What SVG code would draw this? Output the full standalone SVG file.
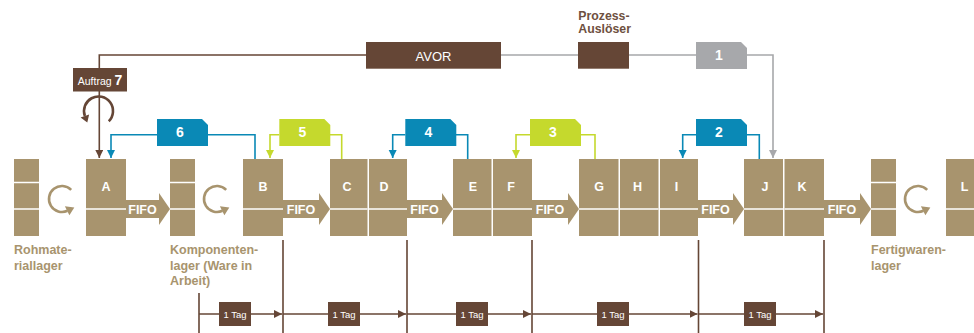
<svg xmlns="http://www.w3.org/2000/svg" xmlns:xlink="http://www.w3.org/1999/xlink" width="974" height="333" viewBox="0 0 974 333">
  <style>
    text { font-family: "Liberation Sans", Arial, sans-serif; }
    .node { fill: #a8946e; }
    .sep { stroke: #ffffff; stroke-width: 1.6; fill: none; }
    .nlabel { fill: #ffffff; font-size: 12.5px; font-weight: bold; text-anchor: middle; }
    .fifo { fill: #a8946e; }
    .fifotxt { fill: #ffffff; font-size: 12.5px; font-weight: bold; text-anchor: middle; }
    .store-label { fill: #a8946e; font-size: 12.5px; font-weight: bold; }
    .cycle { fill: none; stroke: #a8946e; stroke-width: 2.6; }
    .brown { stroke: #654636; stroke-width: 1.6; fill: none; }
    .grey { stroke: #a7a8ab; stroke-width: 1.6; fill: none; }
    .blue { stroke: #0a89b6; stroke-width: 1.6; fill: none; }
    .lime { stroke: #c5d92d; stroke-width: 1.6; fill: none; }
    .tagtxt { fill: #ffffff; font-size: 14px; font-weight: bold; text-anchor: middle; }
    .day { fill: #654636; }
    .daytxt { fill: #ffffff; font-size: 9.5px; text-anchor: middle; }
    .tl { stroke: #654636; stroke-width: 1.6; fill: none; }
  </style>
  <defs>
    <marker id="ah-brown" markerUnits="userSpaceOnUse" markerWidth="9" markerHeight="9" refX="8" refY="4" orient="auto">
      <path d="M0,0 L8,4 L0,8 Z" fill="#654636"/>
    </marker>
    <marker id="ah-grey" markerUnits="userSpaceOnUse" markerWidth="9" markerHeight="9" refX="8" refY="4" orient="auto">
      <path d="M0,0 L8,4 L0,8 Z" fill="#a7a8ab"/>
    </marker>
    <marker id="ah-blue" markerUnits="userSpaceOnUse" markerWidth="9" markerHeight="9" refX="8" refY="4" orient="auto">
      <path d="M0,0 L8,4 L0,8 Z" fill="#0a89b6"/>
    </marker>
    <marker id="ah-lime" markerUnits="userSpaceOnUse" markerWidth="9" markerHeight="9" refX="8" refY="4" orient="auto">
      <path d="M0,0 L8,4 L0,8 Z" fill="#c5d92d"/>
    </marker>
    <!-- stock symbol: narrow block split in three -->
    <g id="store">
      <rect x="0" y="0" width="25" height="77" class="node"/>
      <path d="M0,23.5 H25 M0,50 H25" class="sep"/>
    </g>
    <!-- circulating-stock arrow, centred at 0,0 -->
    <g id="cycle">
      <path d="M9.19,-9.19 A13,13 0 1 0 5.49,11.78" class="cycle"/>
      <polygon points="12.3,8.6 7.4,16.2 2.9,7.3" fill="#a8946e"/>
    </g>
    <!-- process tag with a cut corner -->
    <path id="tag" d="M0,0 H45 L51,6 V27 H0 Z"/>
  </defs>

  <!-- connectors -->
  <g id="connectors">
    <!-- order flow -->
    <path d="M99.3,68 V55 H366" class="brown"/>
    <path d="M99.3,91 V158" class="brown" marker-end="url(#ah-brown)"/>
    <path d="M501,55 H578 M629,55 H696" class="grey"/>
    <path d="M746.7,55 H773 V158" class="grey" marker-end="url(#ah-grey)"/>
    <!-- pull loops -->
    <path d="M255,159 V134.7 H207.7" class="blue"/>
    <path d="M157,134.7 H111 V158" class="blue" marker-end="url(#ah-blue)"/>
    <path d="M341.7,159 V134.7 H330" class="lime"/>
    <path d="M279.3,134.7 H270 V158" class="lime" marker-end="url(#ah-lime)"/>
    <path d="M467.7,159 V134.7 H456" class="blue"/>
    <path d="M405.3,134.7 H392.7 V158" class="blue" marker-end="url(#ah-blue)"/>
    <path d="M595,159 V134.7 H580.7" class="lime"/>
    <path d="M530,134.7 H516 V158" class="lime" marker-end="url(#ah-lime)"/>
    <path d="M759.3,159 V134.7 H746.7" class="blue"/>
    <path d="M696,134.7 H682.7 V158" class="blue" marker-end="url(#ah-blue)"/>
    <!-- order loop around the first step -->
    <path d="M108.75,121.25 A14.5,14.5 0 1 0 84.87,115.96" fill="none" stroke="#654636" stroke-width="2.6"/>
    <polygon points="87.3,122.6 80.6,117.5 89.1,114.4" fill="#654636"/>
    <!-- FIFO lanes -->
    <path class="fifo" d="M126,200 H159 V193 L170,209 L159,225 V218 H126 Z"/>
    <path class="fifo" d="M283,200 H319 V193 L330,209 L319,225 V218 H283 Z"/>
    <path class="fifo" d="M407,200 H442 V193 L453,209 L442,225 V218 H407 Z"/>
    <path class="fifo" d="M532,200 H568 V193 L579,209 L568,225 V218 H532 Z"/>
    <path class="fifo" d="M698,200 H733 V193 L744,209 L733,225 V218 H698 Z"/>
    <path class="fifo" d="M824,200 H860 V193 L871,209 L860,225 V218 H824 Z"/>
    <text class="fifotxt" x="142.5" y="213.5">FIFO</text>
    <text class="fifotxt" x="301" y="213.5">FIFO</text>
    <text class="fifotxt" x="424.5" y="213.5">FIFO</text>
    <text class="fifotxt" x="550" y="213.5">FIFO</text>
    <text class="fifotxt" x="715.5" y="213.5">FIFO</text>
    <text class="fifotxt" x="842" y="213.5">FIFO</text>
  </g>

  <!-- planning boxes -->
  <g id="auftrag">
    <rect x="73" y="68" width="54" height="23.5" fill="#654636"/>
    <text x="100" y="84.5" fill="#ffffff" font-size="10.5" text-anchor="middle">Auftrag <tspan font-weight="bold" font-size="14">7</tspan></text>
  </g>
  <g id="avor">
    <rect x="366" y="42" width="135" height="26.7" fill="#654636"/>
    <text x="433.5" y="60.5" fill="#ffffff" font-size="13" text-anchor="middle">AVOR</text>
  </g>
  <g id="prozess-ausloeser">
    <text x="578.3" y="19.5" fill="#6e5040" font-size="12.3" font-weight="bold">Prozess-</text>
    <text x="578.3" y="33" fill="#6e5040" font-size="12.3" font-weight="bold">Auslöser</text>
    <rect x="578" y="42" width="51" height="26.7" fill="#654636"/>
  </g>

  <!-- kanban tags -->
  <g id="tag1"><use xlink:href="#tag" x="696" y="42" fill="#a7a8ab"/><text class="tagtxt" x="719" y="60">1</text></g>
  <g id="tag2"><use xlink:href="#tag" x="696" y="119" fill="#0a89b6"/><text class="tagtxt" x="719" y="137.3">2</text></g>
  <g id="tag3"><use xlink:href="#tag" x="530" y="119" fill="#c5d92d"/><text class="tagtxt" x="553" y="137.3">3</text></g>
  <g id="tag4"><use xlink:href="#tag" x="405.3" y="119" fill="#0a89b6"/><text class="tagtxt" x="428.3" y="137.3">4</text></g>
  <g id="tag5"><use xlink:href="#tag" x="279.3" y="119" fill="#c5d92d"/><text class="tagtxt" x="302.3" y="137.3">5</text></g>
  <g id="tag6"><use xlink:href="#tag" x="157" y="119" fill="#0a89b6"/><text class="tagtxt" x="180" y="137.3">6</text></g>

  <!-- stores -->
  <g id="rohmateriallager">
    <use xlink:href="#store" x="14" y="159"/>
    <use xlink:href="#cycle" x="62" y="199"/>
    <text class="store-label" x="14" y="254">Rohmate-</text>
    <text class="store-label" x="14" y="269.5">riallager</text>
  </g>
  <g id="komponentenlager">
    <use xlink:href="#store" x="170" y="159"/>
    <use xlink:href="#cycle" x="217" y="199"/>
    <text class="store-label" x="170" y="254">Komponenten-</text>
    <text class="store-label" x="170" y="269.5">lager (Ware in</text>
    <text class="store-label" x="170" y="285">Arbeit)</text>
  </g>
  <g id="fertigwarenlager">
    <use xlink:href="#store" x="871" y="159"/>
    <use xlink:href="#cycle" x="918" y="199"/>
    <text class="store-label" x="871" y="254">Fertigwaren-</text>
    <text class="store-label" x="871" y="269.5">lager</text>
  </g>

  <!-- process steps -->
  <g id="node-A"><rect class="node" x="86" y="159" width="40" height="77"/><path class="sep" d="M86,209 H126"/><text class="nlabel" x="106" y="191">A</text></g>
  <g id="node-B"><rect class="node" x="243" y="159" width="40" height="77"/><path class="sep" d="M243,209 H283"/><text class="nlabel" x="263" y="191">B</text></g>
  <g id="node-C"><rect class="node" x="330" y="159" width="37.5" height="77"/><path class="sep" d="M330,209 H367.5"/><text class="nlabel" x="347" y="191">C</text></g>
  <g id="node-D"><rect class="node" x="369" y="159" width="38" height="77"/><path class="sep" d="M369,209 H407"/><text class="nlabel" x="384" y="191">D</text></g>
  <g id="node-E"><rect class="node" x="453" y="159" width="38.5" height="77"/><path class="sep" d="M453,209 H491.5"/><text class="nlabel" x="473" y="191">E</text></g>
  <g id="node-F"><rect class="node" x="493" y="159" width="39" height="77"/><path class="sep" d="M493,209 H532"/><text class="nlabel" x="511" y="191">F</text></g>
  <g id="node-G"><rect class="node" x="579" y="159" width="39.5" height="77"/><path class="sep" d="M579,209 H618.5"/><text class="nlabel" x="599" y="191">G</text></g>
  <g id="node-H"><rect class="node" x="620" y="159" width="38.5" height="77"/><path class="sep" d="M620,209 H658.5"/><text class="nlabel" x="637.5" y="191">H</text></g>
  <g id="node-I"><rect class="node" x="660" y="159" width="38" height="77"/><path class="sep" d="M660,209 H698"/><text class="nlabel" x="676.5" y="191">I</text></g>
  <g id="node-J"><rect class="node" x="744" y="159" width="39" height="77"/><path class="sep" d="M744,209 H783"/><text class="nlabel" x="765" y="191">J</text></g>
  <g id="node-K"><rect class="node" x="784.5" y="159" width="39.5" height="77"/><path class="sep" d="M784.5,209 H824"/><text class="nlabel" x="802" y="191">K</text></g>
  <g id="node-L"><rect class="node" x="946" y="159" width="40" height="77"/><path class="sep" d="M946,209 H986"/><text class="nlabel" x="964.5" y="191">L</text></g>

  <!-- lead time scale -->
  <g id="timeline">
    <path class="tl" d="M199,293 V333 M283,240 V333 M407,240 V333 M532,240 V333 M698.5,240 V333 M824,240 V333"/>
    <path class="tl" d="M199,314 H282" marker-end="url(#ah-brown)"/>
    <path class="tl" d="M283,314 H406" marker-end="url(#ah-brown)"/>
    <path class="tl" d="M407,314 H531" marker-end="url(#ah-brown)"/>
    <path class="tl" d="M532,314 H697.5" marker-end="url(#ah-brown)"/>
    <path class="tl" d="M698.5,314 H823" marker-end="url(#ah-brown)"/>
    <g id="day1"><rect class="day" x="219" y="302" width="32" height="24"/><text class="daytxt" x="235" y="317.5">1 Tag</text></g>
    <g id="day2"><rect class="day" x="328" y="302" width="32" height="24"/><text class="daytxt" x="344" y="317.5">1 Tag</text></g>
    <g id="day3"><rect class="day" x="456" y="302" width="32" height="24"/><text class="daytxt" x="472" y="317.5">1 Tag</text></g>
    <g id="day4"><rect class="day" x="597" y="302" width="32" height="24"/><text class="daytxt" x="613" y="317.5">1 Tag</text></g>
    <g id="day5"><rect class="day" x="744" y="302" width="32" height="24"/><text class="daytxt" x="760" y="317.5">1 Tag</text></g>
  </g>
</svg>
